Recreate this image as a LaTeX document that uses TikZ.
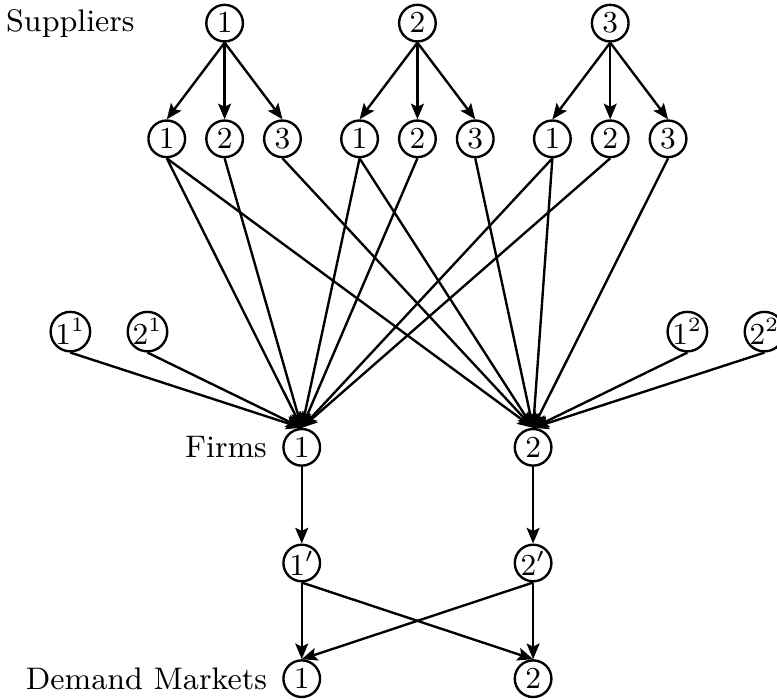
\documentclass[tikz,border=0pt]{standalone}
\usetikzlibrary{positioning,arrows.meta}

\begin{document}
\begin{tikzpicture}[line width=0.7pt,
    >={Stealth[length=4.6pt,width=3.8pt,inset=0.9pt]},
    every node/.style={font=\fontsize{9.2pt}{11pt}\selectfont},
    vertex/.style={draw,circle,inner sep=0pt,minimum size=0.38cm}]
            \useasboundingbox (-4.33,-0.22) rectangle (3.73,7.04);

            % suppliers and their transport modes
            \node[vertex] (s1) at (-2, 6.8) { $1$ };
            \node[vertex] (s2) at (0, 6.8) { $2$ };
            \node[vertex] (s3) at (2, 6.8) { $3$ };
            \node (suplabel) at (-3.6, 6.8) {Suppliers};

            \node[vertex] (t11) at (-2.6, 5.6) { $1$ };
            \node[vertex] (t12) at (-2, 5.6) { $2$ };
            \node[vertex] (t13) at (-1.4, 5.6) { $3$ };
            \node[vertex] (t21) at (-0.6, 5.6) { $1$ };
            \node[vertex] (t22) at (0, 5.6) { $2$ };
            \node[vertex] (t23) at (0.6, 5.6) { $3$ };
            \node[vertex] (t31) at (1.4, 5.6) { $1$ };
            \node[vertex] (t32) at (2, 5.6) { $2$ };
            \node[vertex] (t33) at (2.6, 5.6) { $3$ };

            % other inputs
            \node[vertex] (o11) at (-3.6, 3.6) { $1^1$ };
            \node[vertex] (o21) at (-2.8, 3.6) { $2^1$ };
            \node[vertex] (o12) at (2.8, 3.6) { $1^2$ };
            \node[vertex] (o22) at (3.6, 3.6) { $2^2$ };

            % firms and demand markets
            \node[vertex] (f1) at (-1.2, 2.4) { $1$ };
            \node[vertex] (f2) at (1.2, 2.4) { $2$ };
            \node[left=0.3mm of f1] (firmlabel) {Firms};

            \node[vertex] (g1) at (-1.2, 1.2) { $1'$ };
            \node[vertex] (g2) at (1.2, 1.2) { $2'$ };

            \node[vertex] (d1) at (-1.2, 0) { $1$ };
            \node[vertex] (d2) at (1.2, 0) { $2$ };
            \node[left=0.3mm of d1] (demlabel) {Demand Markets};

            \path[->] (s1.south) edge (t11.north) edge (t12.north) edge (t13.north);
            \path[->] (s2.south) edge (t21.north) edge (t22.north) edge (t23.north);
            \path[->] (s3.south) edge (t31.north) edge (t32.north) edge (t33.north);

            \path[->] (t11.south) edge (f1.north) edge (f2.north);
            \path[->] (t12.south) edge (f1.north);
            \path[->] (t13.south) edge (f2.north);
            \path[->] (t21.south) edge (f1.north) edge (f2.north);
            \path[->] (t22.south) edge (f1.north);
            \path[->] (t23.south) edge (f2.north);
            \path[->] (t31.south) edge (f1.north) edge (f2.north);
            \path[->] (t32.south) edge (f1.north);
            \path[->] (t33.south) edge (f2.north);

            \path[->] (o11.south) edge (f1.north);
            \path[->] (o21.south) edge (f1.north);
            \path[->] (o12.south) edge (f2.north);
            \path[->] (o22.south) edge (f2.north);

            \path[->] (f1) edge (g1);
            \path[->] (f2) edge (g2);

            \path[->] (g1.south) edge (d1.north) edge (d2.north);
            \path[->] (g2.south) edge (d1.north) edge (d2.north);
\end{tikzpicture}
\end{document}
